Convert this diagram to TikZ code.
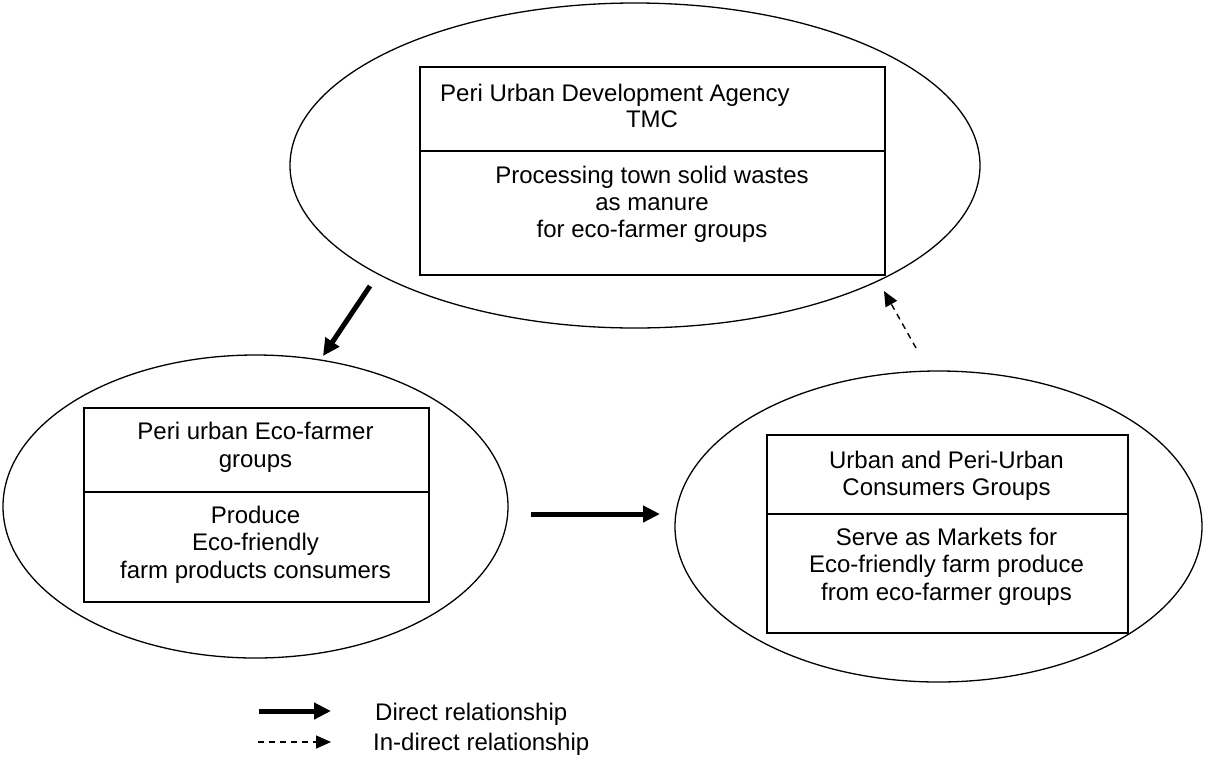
\documentclass[tikz,border=0pt]{standalone}
\usepackage{fontspec}
\setmainfont{Liberation Sans}
\usetikzlibrary{shapes.geometric,arrows.meta}
\tikzset{
  oval/.style={draw, ellipse, line width=1.3pt, inner sep=0pt},
  part/.style={draw, rectangle, line width=1.5pt, inner sep=0pt, anchor=north west},
  txt/.style={font=\fontsize{24}{27}\selectfont, inner sep=0pt, anchor=base},
  txtw/.style={font=\fontsize{24}{27}\selectfont, inner sep=0pt, anchor=base west},
  direct/.style={line width=5pt, -{Triangle[length=17pt,width=16pt]}},
  indirect/.style={line width=1.4pt, dash pattern=on 6pt off 5pt, -{Triangle[length=15pt,width=13pt]}}
}
\begin{document}
\begin{tikzpicture}[x=1pt,y=-1pt]
\path[use as bounding box, fill=white] (0,0) rectangle (1205,772);

% ellipses
\node[oval, minimum width=690pt, minimum height=325pt] (topE) at (635,165.5) {};
\node[oval, minimum width=505pt, minimum height=303pt] (leftE) at (255.5,506.5) {};
\node[oval, minimum width=527pt, minimum height=311pt] (rightE) at (938.5,526.5) {};

% top box
\node[part, minimum width=465pt, minimum height=84pt] (topH) at (419,66) {};
\node[part, minimum width=465pt, minimum height=124pt] (topB) at (419,150) {};
\node[txtw] (t1) at (440,101) {Peri Urban Development Agency};
\node[txt] (t2) at (652,127) {TMC};
\node[txt] (t3) at (652,183) {Processing town solid wastes};
\node[txt] (t4) at (652,210) {as manure};
\node[txt] (t5) at (652,237) {for eco-farmer groups};

% left box
\node[part, minimum width=345pt, minimum height=84pt] (leftH) at (83,407) {};
\node[part, minimum width=345pt, minimum height=110pt] (leftB) at (83,491) {};
\node[txt] (l1) at (255.5,439) {Peri urban Eco-farmer};
\node[txt] (l2) at (255.5,467) {groups};
\node[txt] (l3) at (255.5,523) {Produce};
\node[txt] (l4) at (255.5,550) {Eco-friendly};
\node[txt] (l5) at (255.5,578) {farm products consumers};

% right box
\node[part, minimum width=361pt, minimum height=79pt] (rightH) at (766,434) {};
\node[part, minimum width=361pt, minimum height=119pt] (rightB) at (766,513) {};
\node[txt] (r1) at (946.5,468) {Urban and Peri-Urban};
\node[txt] (r2) at (946.5,495) {Consumers Groups};
\node[txt] (r3) at (946.5,545) {Serve as Markets for};
\node[txt] (r4) at (946.5,572) {Eco-friendly farm produce};
\node[txt] (r5) at (946.5,600) {from eco-farmer groups};

% connectors
\coordinate (a1s) at (370,286);
\coordinate (a1e) at (323,356);
\draw[direct] (a1s) -- (a1e);
\coordinate (a2s) at (531,514);
\coordinate (a2e) at (660,514);
\draw[direct] (a2s) -- (a2e);
\coordinate (a3s) at (916,348);
\coordinate (a3e) at (884,291);
\draw[indirect] (a3s) -- (a3e);

% legend
\coordinate (g1s) at (259,711);
\coordinate (g1e) at (331,711);
\draw[direct] (g1s) -- (g1e);
\node[txtw] (g1t) at (375,720) {Direct relationship};
\coordinate (g2s) at (258,742);
\coordinate (g2e) at (331,742);
\draw[indirect] (g2s) -- (g2e);
\node[txtw] (g2t) at (373,750) {In-direct relationship};
\end{tikzpicture}
\end{document}
